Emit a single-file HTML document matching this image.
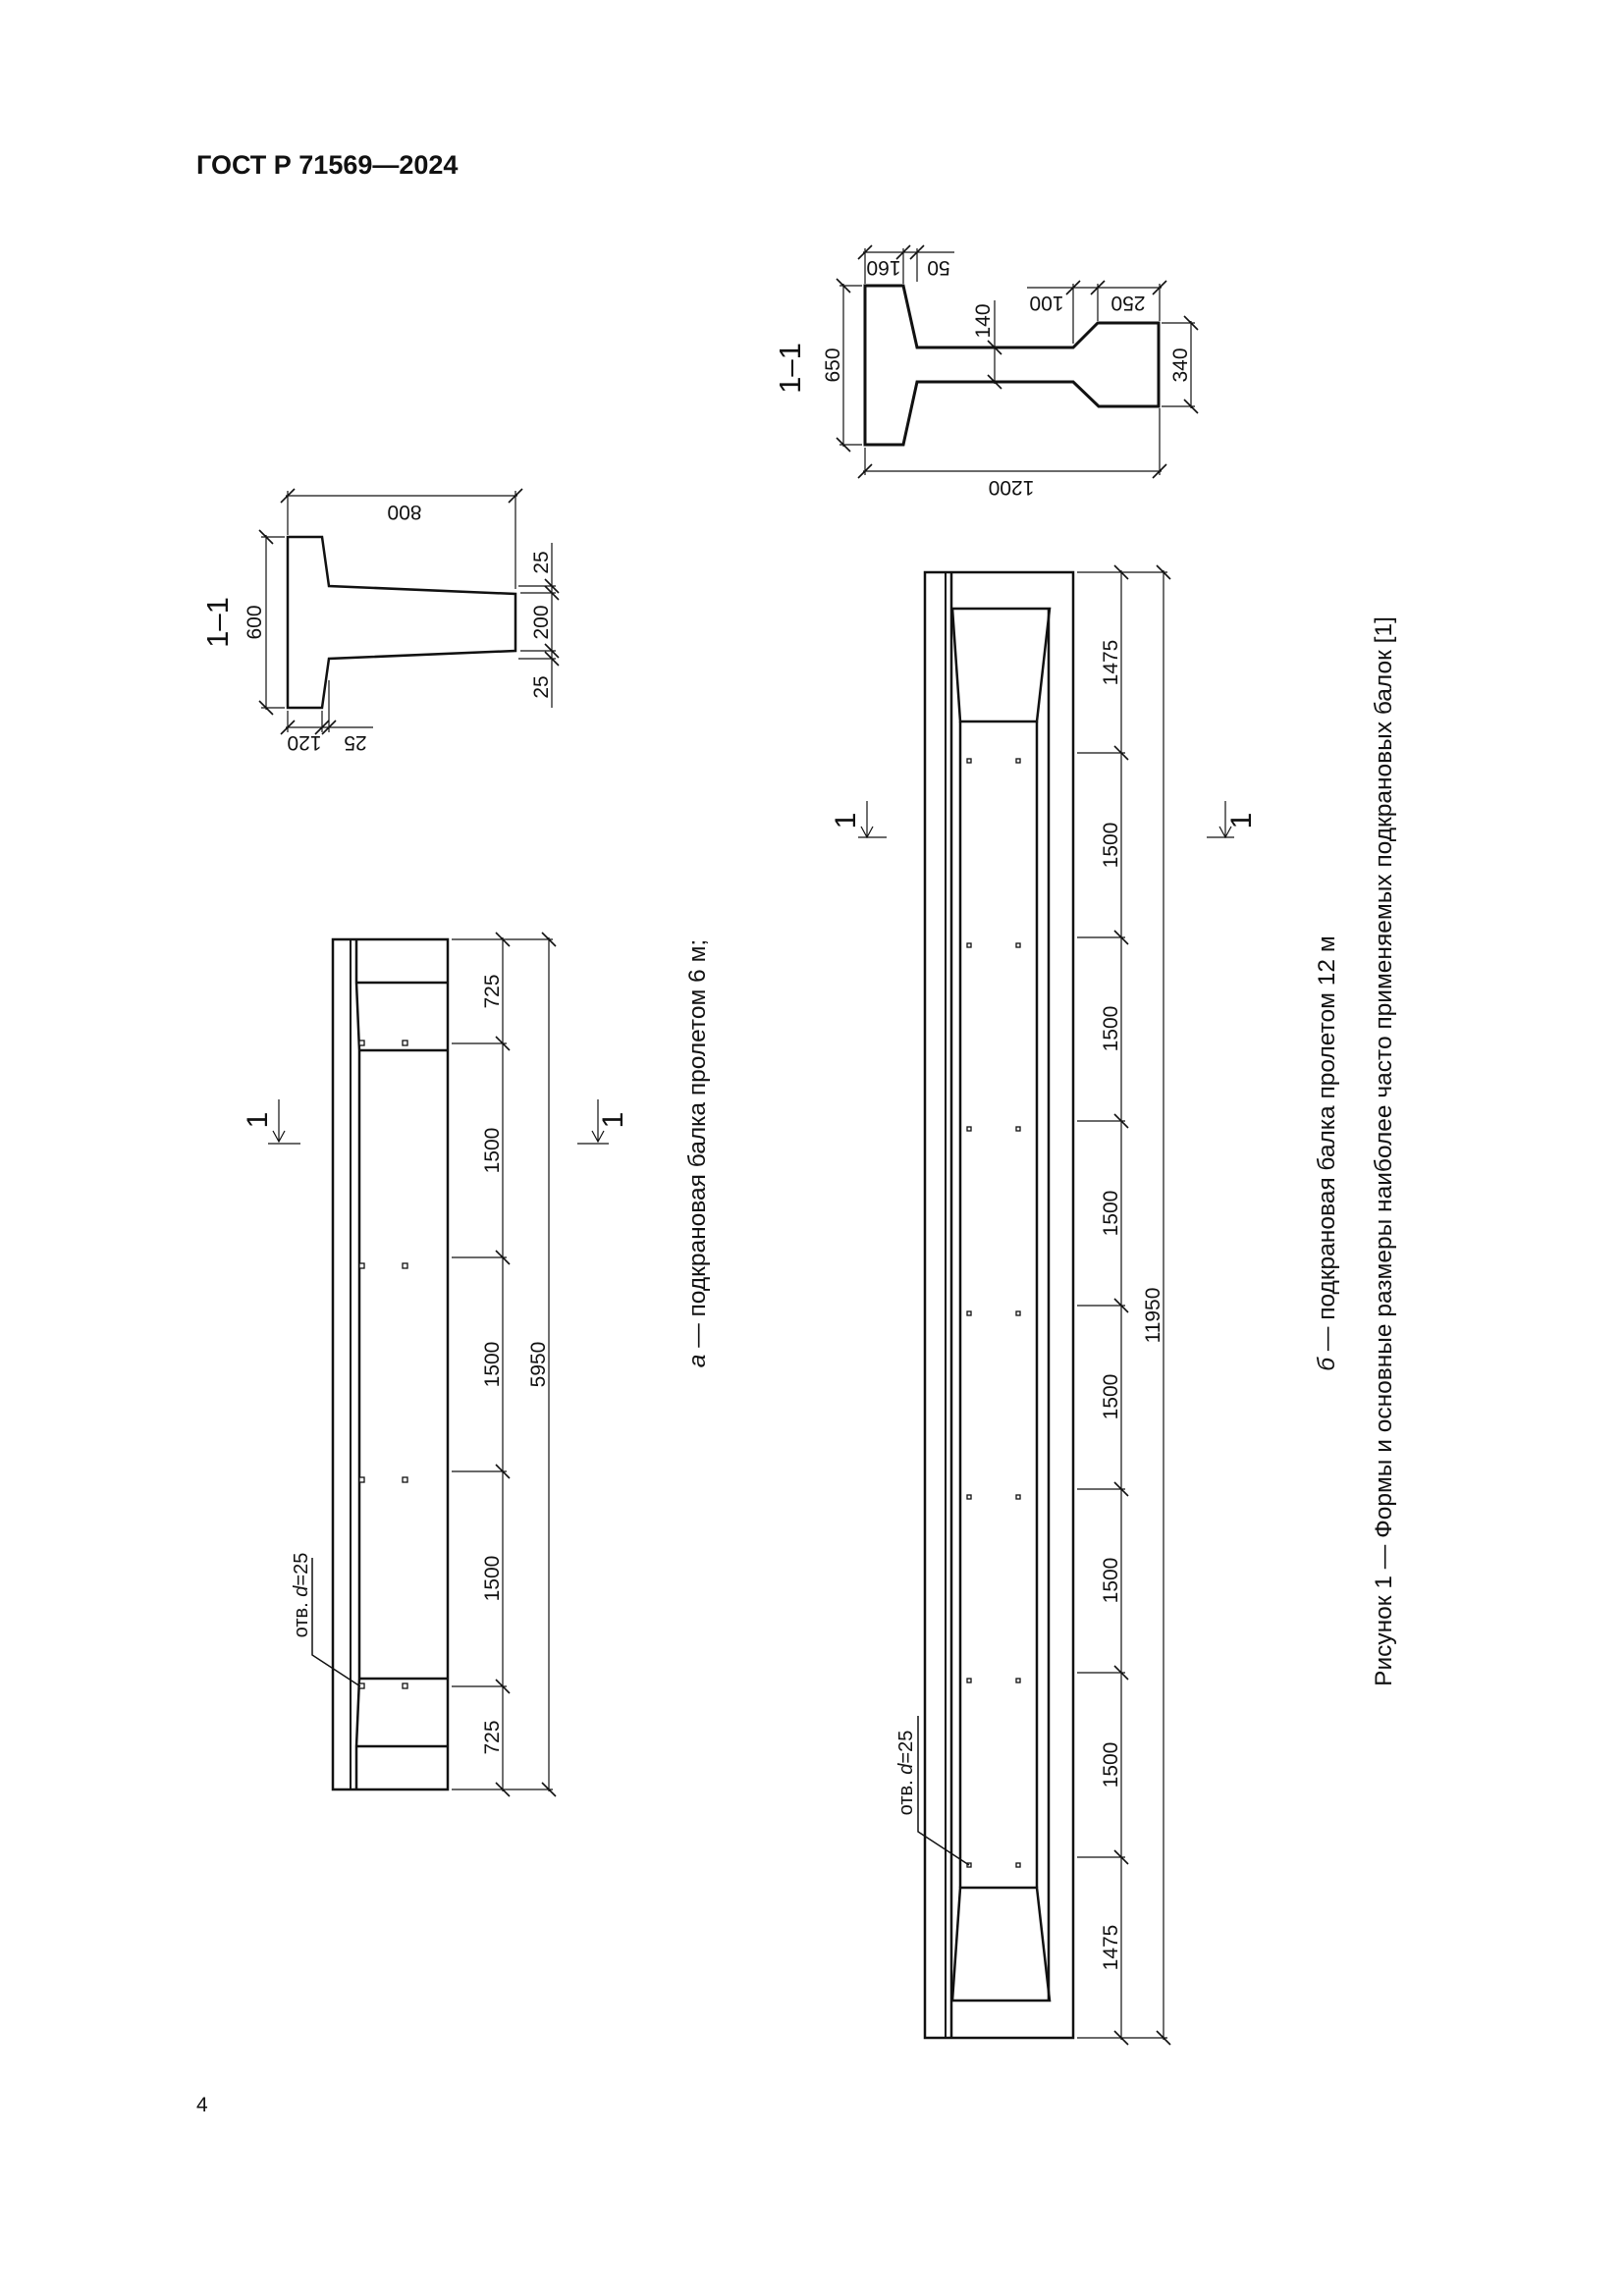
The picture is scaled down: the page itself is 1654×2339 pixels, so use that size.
<!DOCTYPE html>
<html><head><meta charset="utf-8"><style>
html,body{margin:0;padding:0;background:#fff;}
svg{display:block;}
text{font-family:"Liberation Sans",sans-serif;fill:#111;}
</style></head><body>
<svg width="1654" height="2339" viewBox="0 0 1654 2339" xmlns="http://www.w3.org/2000/svg">
<defs>
<g id="tv"><line x1="-7" y1="-7" x2="7" y2="7" stroke="#111" stroke-width="1.6"/></g>
<g id="th"><line x1="-7" y1="7" x2="7" y2="-7" stroke="#111" stroke-width="1.6"/></g>
</defs>
<text x="200" y="177" font-size="27" font-weight="bold">ГОСТ Р 71569—2024</text>
<text x="200" y="2151" font-size="21">4</text>

<!-- ===== Section a ===== -->
<g fill="none" stroke="#111">
<polygon points="293,547 328,547 335,597 525,605 525,663 335,671 328,721 293,721" stroke-width="2.5"/>
<g stroke-width="1.2">
<line x1="271" y1="545" x2="271" y2="723"/><line x1="266" y1="547" x2="290" y2="547"/><line x1="266" y1="721" x2="290" y2="721"/>
<line x1="291" y1="505" x2="527" y2="505"/><line x1="293" y1="500" x2="293" y2="545"/><line x1="525" y1="500" x2="525" y2="600"/>
<line x1="562" y1="553" x2="562" y2="721"/>
<line x1="528" y1="597" x2="566" y2="597"/><line x1="530" y1="604" x2="566" y2="604"/><line x1="530" y1="663" x2="566" y2="663"/><line x1="528" y1="671" x2="566" y2="671"/>
<line x1="291" y1="741" x2="380" y2="741"/><line x1="293" y1="724" x2="293" y2="746"/><line x1="328" y1="724" x2="328" y2="746"/><line x1="335" y1="693" x2="335" y2="746"/>
</g></g>
<use href="#tv" x="271" y="547"/><use href="#tv" x="271" y="721"/>
<use href="#th" x="293" y="505"/><use href="#th" x="525" y="505"/>
<use href="#tv" x="562" y="597"/><use href="#tv" x="562" y="604"/><use href="#tv" x="562" y="663"/><use href="#tv" x="562" y="671"/>
<use href="#th" x="293" y="741"/><use href="#th" x="328" y="741"/><use href="#th" x="335" y="741"/>
<text font-size="31" text-anchor="middle" transform="translate(232,634) rotate(-90)">1–1</text>
<text font-size="21" text-anchor="middle" transform="translate(266,634) rotate(-90)">600</text>
<text font-size="21" text-anchor="middle" transform="translate(412,515) rotate(180)">800</text>
<text font-size="21" text-anchor="middle" transform="translate(558,573) rotate(-90)">25</text>
<text font-size="21" text-anchor="middle" transform="translate(558,634) rotate(-90)">200</text>
<text font-size="21" text-anchor="middle" transform="translate(558,700) rotate(-90)">25</text>
<text font-size="21" text-anchor="middle" transform="translate(310,750) rotate(180)">120</text>
<text font-size="21" text-anchor="middle" transform="translate(362,750) rotate(180)">25</text>

<!-- ===== Section b ===== -->
<g fill="none" stroke="#111">
<polygon points="881,291 920,291 934,354 1093,354 1118,329 1180,329 1180,414 1119,414 1093,389 934,389 920,453 881,453" stroke-width="3"/>
<g stroke-width="1.2">
<line x1="859" y1="289" x2="859" y2="455"/><line x1="855" y1="291" x2="878" y2="291"/><line x1="855" y1="453" x2="878" y2="453"/>
<line x1="879" y1="480" x2="1183" y2="480"/><line x1="881" y1="456" x2="881" y2="484"/><line x1="1181" y1="416" x2="1181" y2="484"/>
<line x1="879" y1="257" x2="972" y2="257"/><line x1="881" y1="253" x2="881" y2="289"/><line x1="920" y1="253" x2="920" y2="289"/><line x1="934" y1="253" x2="934" y2="287"/>
<line x1="1013" y1="306" x2="1013" y2="391"/>
<line x1="1046" y1="293" x2="1183" y2="293"/><line x1="1093" y1="289" x2="1093" y2="350"/><line x1="1118" y1="289" x2="1118" y2="327"/><line x1="1181" y1="289" x2="1181" y2="327"/>
<line x1="1213" y1="327" x2="1213" y2="416"/><line x1="1183" y1="329" x2="1217" y2="329"/><line x1="1183" y1="414" x2="1217" y2="414"/>
</g></g>
<use href="#tv" x="859" y="291"/><use href="#tv" x="859" y="453"/>
<use href="#th" x="881" y="480"/><use href="#th" x="1181" y="480"/>
<use href="#th" x="881" y="257"/><use href="#th" x="920" y="257"/><use href="#th" x="934" y="257"/>
<use href="#tv" x="1013" y="354"/><use href="#tv" x="1013" y="389"/>
<use href="#th" x="1093" y="293"/><use href="#th" x="1118" y="293"/><use href="#th" x="1181" y="293"/>
<use href="#tv" x="1213" y="329"/><use href="#tv" x="1213" y="414"/>
<text font-size="31" text-anchor="middle" transform="translate(815,375) rotate(-90)">1–1</text>
<text font-size="21" text-anchor="middle" transform="translate(855,372) rotate(-90)">650</text>
<text font-size="21" text-anchor="middle" transform="translate(1030,490) rotate(180)">1200</text>
<text font-size="21" text-anchor="middle" transform="translate(900,266) rotate(180)">160</text>
<text font-size="21" text-anchor="middle" transform="translate(956,266) rotate(180)">50</text>
<text font-size="21" text-anchor="middle" transform="translate(1008,327) rotate(-90)">140</text>
<text font-size="21" text-anchor="middle" transform="translate(1066,302) rotate(180)">100</text>
<text font-size="21" text-anchor="middle" transform="translate(1149,302) rotate(180)">250</text>
<text font-size="21" text-anchor="middle" transform="translate(1209,372) rotate(-90)">340</text>

<!-- ===== Beam a ===== -->
<g fill="none" stroke="#111" stroke-width="2.5">
<rect x="339" y="957" width="117" height="866"/>
<line x1="357" y1="957" x2="357" y2="1823" stroke-width="2"/>
<polyline points="363,957 363,1001 366,1070 366,1710 363,1779 363,1823"/>
<line x1="363" y1="1001" x2="456" y2="1001"/>
<line x1="366" y1="1070" x2="456" y2="1070"/>
<line x1="366" y1="1710" x2="456" y2="1710"/>
<line x1="363" y1="1779" x2="456" y2="1779"/>
</g>
<g fill="#fff" stroke="#111" stroke-width="1.3">
<rect x="366" y="1060" width="5" height="5"/><rect x="410" y="1060" width="5" height="5"/>
<rect x="366" y="1287" width="5" height="5"/><rect x="410" y="1287" width="5" height="5"/>
<rect x="366" y="1505" width="5" height="5"/><rect x="410" y="1505" width="5" height="5"/>
<rect x="366" y="1715" width="5" height="5"/><rect x="410" y="1715" width="5" height="5"/>
</g>
<g stroke="#111" stroke-width="1.2" fill="none">
<line x1="512" y1="955" x2="512" y2="1825"/><line x1="559" y1="955" x2="559" y2="1825"/>
<line x1="460" y1="957" x2="563" y2="957"/><line x1="460" y1="1823" x2="563" y2="1823"/>
<line x1="460" y1="1063" x2="516" y2="1063"/><line x1="460" y1="1281" x2="516" y2="1281"/>
<line x1="460" y1="1499" x2="516" y2="1499"/><line x1="460" y1="1718" x2="516" y2="1718"/>
<polyline points="318,1587 318,1686 367,1718" stroke-width="1.5"/>
<line x1="284" y1="1120" x2="284" y2="1163"/><polyline points="278,1152 284,1163 290,1152"/><line x1="273" y1="1165" x2="306" y2="1165"/>
<line x1="609" y1="1120" x2="609" y2="1163"/><polyline points="603,1152 609,1163 615,1152"/><line x1="588" y1="1165" x2="620" y2="1165"/>
</g>
<use href="#tv" x="512" y="957"/><use href="#tv" x="512" y="1063"/><use href="#tv" x="512" y="1281"/><use href="#tv" x="512" y="1499"/><use href="#tv" x="512" y="1718"/><use href="#tv" x="512" y="1823"/>
<use href="#tv" x="559" y="957"/><use href="#tv" x="559" y="1823"/>
<g font-size="21" text-anchor="middle">
<text transform="translate(508,1010) rotate(-90)">725</text>
<text transform="translate(508,1172) rotate(-90)">1500</text>
<text transform="translate(508,1390) rotate(-90)">1500</text>
<text transform="translate(508,1608) rotate(-90)">1500</text>
<text transform="translate(508,1770) rotate(-90)">725</text>
<text transform="translate(555,1390) rotate(-90)">5950</text>
<text transform="translate(272,1141) rotate(-90)" font-size="30">1</text>
<text transform="translate(634,1141) rotate(-90)" font-size="30">1</text>
</g>
<text font-size="20" text-anchor="middle" transform="translate(313,1625) rotate(-90)">отв. <tspan font-style="italic">d</tspan>=25</text>
<text font-size="24.5" text-anchor="middle" transform="translate(718,1175) rotate(-90)"><tspan font-style="italic">а</tspan> — подкрановая балка пролетом 6 м;</text>

<!-- ===== Beam b ===== -->
<g fill="none" stroke="#111" stroke-width="2.5">
<rect x="942" y="583" width="151" height="1493"/>
<line x1="963" y1="583" x2="963" y2="2076" stroke-width="2"/>
<line x1="969" y1="583" x2="969" y2="2076"/>
<polygon points="970,620 1069,620 1056,735 978,735"/>
<polygon points="978,1923 1056,1923 1069,2038 970,2038"/>
<line x1="978" y1="735" x2="978" y2="1923"/>
<line x1="1056" y1="735" x2="1056" y2="1923"/>
<line x1="1068" y1="620" x2="1068" y2="2038"/>
</g>
<g fill="#fff" stroke="#111" stroke-width="1.3">
<rect x="985" y="773" width="4" height="4"/><rect x="1035" y="773" width="4" height="4"/>
<rect x="985" y="961" width="4" height="4"/><rect x="1035" y="961" width="4" height="4"/>
<rect x="985" y="1148" width="4" height="4"/><rect x="1035" y="1148" width="4" height="4"/>
<rect x="985" y="1336" width="4" height="4"/><rect x="1035" y="1336" width="4" height="4"/>
<rect x="985" y="1523" width="4" height="4"/><rect x="1035" y="1523" width="4" height="4"/>
<rect x="985" y="1710" width="4" height="4"/><rect x="1035" y="1710" width="4" height="4"/>
<rect x="985" y="1898" width="4" height="4"/><rect x="1035" y="1898" width="4" height="4"/>
</g>
<g stroke="#111" stroke-width="1.2" fill="none">
<line x1="1142" y1="581" x2="1142" y2="2078"/><line x1="1185" y1="581" x2="1185" y2="2078"/>
<line x1="1097" y1="583" x2="1189" y2="583"/><line x1="1097" y1="2076" x2="1189" y2="2076"/>
<line x1="1097" y1="767" x2="1146" y2="767"/><line x1="1097" y1="955" x2="1146" y2="955"/>
<line x1="1097" y1="1142" x2="1146" y2="1142"/><line x1="1097" y1="1330" x2="1146" y2="1330"/>
<line x1="1097" y1="1517" x2="1146" y2="1517"/><line x1="1097" y1="1704" x2="1146" y2="1704"/>
<line x1="1097" y1="1892" x2="1146" y2="1892"/>
<polyline points="935,1748 935,1866 987,1900" stroke-width="1.5"/>
<line x1="883" y1="816" x2="883" y2="853"/><polyline points="877,842 883,853 889,842"/><line x1="874" y1="853" x2="903" y2="853"/>
<line x1="1248" y1="816" x2="1248" y2="853"/><polyline points="1242,842 1248,853 1254,842"/><line x1="1229" y1="853" x2="1257" y2="853"/>
</g>
<use href="#tv" x="1142" y="583"/><use href="#tv" x="1142" y="767"/><use href="#tv" x="1142" y="955"/><use href="#tv" x="1142" y="1142"/><use href="#tv" x="1142" y="1330"/><use href="#tv" x="1142" y="1517"/><use href="#tv" x="1142" y="1704"/><use href="#tv" x="1142" y="1892"/><use href="#tv" x="1142" y="2076"/>
<use href="#tv" x="1185" y="583"/><use href="#tv" x="1185" y="2076"/>
<g font-size="21" text-anchor="middle">
<text transform="translate(1138,675) rotate(-90)">1475</text>
<text transform="translate(1138,861) rotate(-90)">1500</text>
<text transform="translate(1138,1048) rotate(-90)">1500</text>
<text transform="translate(1138,1236) rotate(-90)">1500</text>
<text transform="translate(1138,1423) rotate(-90)">1500</text>
<text transform="translate(1138,1610) rotate(-90)">1500</text>
<text transform="translate(1138,1798) rotate(-90)">1500</text>
<text transform="translate(1138,1984) rotate(-90)">1475</text>
<text transform="translate(1181,1340) rotate(-90)">11950</text>
<text transform="translate(871,836) rotate(-90)" font-size="30">1</text>
<text transform="translate(1274,836) rotate(-90)" font-size="30">1</text>
</g>
<text font-size="20" text-anchor="middle" transform="translate(929,1806) rotate(-90)">отв. <tspan font-style="italic">d</tspan>=25</text>
<text font-size="24.5" text-anchor="middle" transform="translate(1359,1175) rotate(-90)"><tspan font-style="italic">б</tspan> — подкрановая балка пролетом 12 м</text>
<text font-size="24.5" text-anchor="middle" transform="translate(1417,1173) rotate(-90)">Рисунок 1 — Формы и основные размеры наиболее часто применяемых подкрановых балок [1]</text>
</svg>
</body></html>
